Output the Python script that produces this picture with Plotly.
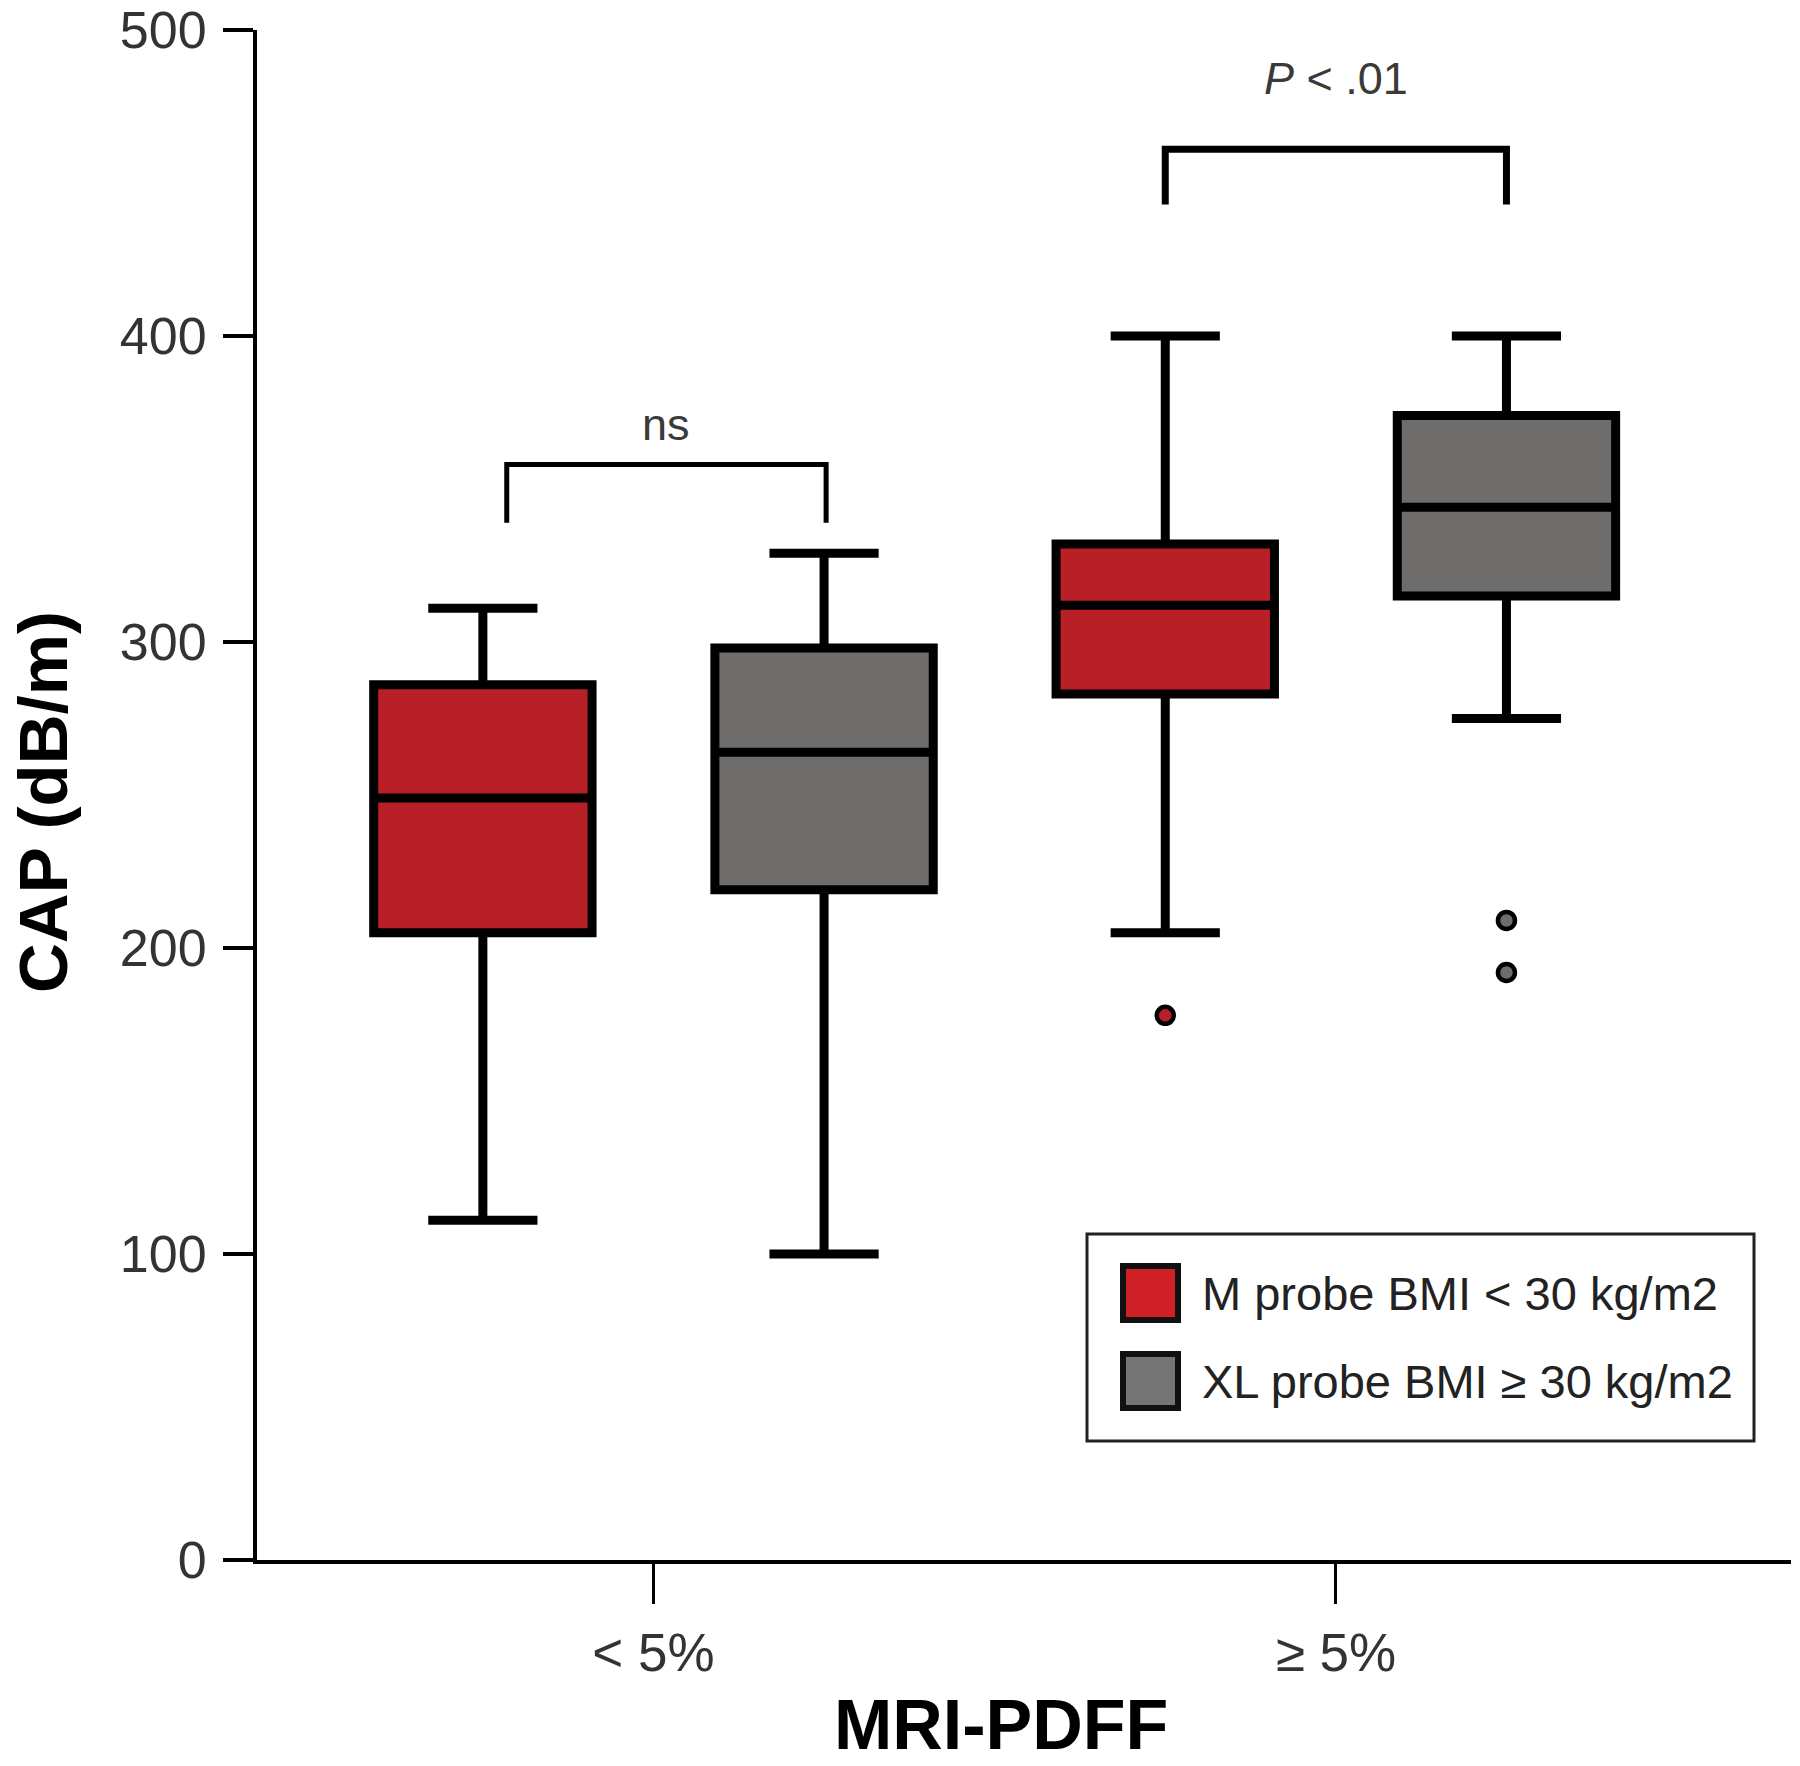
import plotly.graph_objects as go

# ---------------- data ----------------
categories = ["&lt; 5%", "≥ 5%"]

m_lower = [111, 205]
m_q1 = [205, 283]
m_median = [249, 312]
m_q3 = [286, 332]
m_upper = [311, 400]

xl_lower = [100, 275]
xl_q1 = [219, 315]
xl_median = [264, 344]
xl_q3 = [298, 374]
xl_upper = [329, 400]

m_outlier_cat = [1]
m_outlier_val = [178]
xl_outlier_cat = [1, 1]
xl_outlier_val = [209, 192]

y_ticks = [0, 100, 200, 300, 400, 500]

series_names = ["M probe BMI &lt; 30 kg/m2", "XL probe BMI ≥ 30 kg/m2"]

# ---------------- style ----------------
FONT = "Liberation Sans, Arial, Helvetica, sans-serif"
RED = "#B91F26"
GRAY = "#6E6D6C"
RED_LEG = "#CF2027"
GRAY_LEG = "#767575"
OFFSET = 0.25
BOX_W = 0.32

W, H = 1800, 1766
PLOT_L, PLOT_R, PLOT_T, PLOT_B = 257, 1791, 30, 1560   # in window pixels
ML = PLOT_L
MT = PLOT_T
MR = W - PLOT_R
MB = H - PLOT_B
pw = PLOT_R - PLOT_L
ph = PLOT_B - PLOT_T


def px_x(p):
    return (p - PLOT_L) / pw


def px_y(p):
    return (PLOT_B - p) / ph


cat_idx = list(range(len(categories)))

fig = go.Figure()

fig.add_trace(go.Box(
    x=[i - OFFSET for i in cat_idx],
    q1=m_q1, median=m_median, q3=m_q3,
    lowerfence=m_lower, upperfence=m_upper,
    width=BOX_W, whiskerwidth=0.5,
    fillcolor=RED, line=dict(color="black", width=9),
    boxpoints=False, name=series_names[0], showlegend=False,
))
fig.add_trace(go.Box(
    x=[i + OFFSET for i in cat_idx],
    q1=xl_q1, median=xl_median, q3=xl_q3,
    lowerfence=xl_lower, upperfence=xl_upper,
    width=BOX_W, whiskerwidth=0.5,
    fillcolor=GRAY, line=dict(color="black", width=9),
    boxpoints=False, name=series_names[1], showlegend=False,
))

fig.add_trace(go.Scatter(
    x=[c - OFFSET for c in m_outlier_cat], y=m_outlier_val, mode="markers",
    marker=dict(symbol="circle", size=17, color=RED, line=dict(color="black", width=4.5)),
    showlegend=False, hoverinfo="y",
))
fig.add_trace(go.Scatter(
    x=[c + OFFSET for c in xl_outlier_cat], y=xl_outlier_val, mode="markers",
    marker=dict(symbol="circle", size=17, color=GRAY, line=dict(color="black", width=4.5)),
    showlegend=False, hoverinfo="y",
))

# ---------------- significance brackets ----------------
brackets = [
    dict(x0=-0.215, x1=0.253, ylow=339, yhigh=358, width=5, label="ns", ylab=371),
    dict(x0=0.75, x1=1.25, ylow=443, yhigh=461, width=7, label="<i>P</i> &lt; .01", ylab=484),
]
for b in brackets:
    fig.add_shape(
        type="path", xref="x", yref="y",
        path=f"M {b['x0']},{b['ylow']} L {b['x0']},{b['yhigh']} L {b['x1']},{b['yhigh']} L {b['x1']},{b['ylow']}",
        line=dict(color="black", width=b["width"]),
    )
    fig.add_annotation(
        x=(b["x0"] + b["x1"]) / 2, y=b["ylab"], xref="x", yref="y",
        text=b["label"], showarrow=False,
        font=dict(family=FONT, size=45, color="#3a3a3a"),
        xanchor="center", yanchor="middle",
    )

# ---------------- manual legend (paper coords) ----------------
fig.add_shape(type="rect", xref="paper", yref="paper",
              x0=px_x(1087), x1=px_x(1754), y0=px_y(1441), y1=px_y(1234),
              line=dict(color="#222222", width=3), fillcolor="white")
legend_rows = [(RED_LEG, 1293), (GRAY_LEG, 1381)]
for (col, yc), name in zip(legend_rows, series_names):
    fig.add_shape(type="rect", xref="paper", yref="paper",
                  x0=px_x(1123), x1=px_x(1178), y0=px_y(yc + 27), y1=px_y(yc - 27),
                  line=dict(color="#111111", width=6), fillcolor=col)
    fig.add_annotation(x=px_x(1200), y=px_y(yc), xref="paper", yref="paper",
                       text=name, showarrow=False, xanchor="left", yanchor="middle",
                       font=dict(family=FONT, size=47, color="#222222"))

# ---------------- axis titles ----------------
fig.add_annotation(x=px_x(43), y=px_y(802), xref="paper", yref="paper",
                   text="<b>CAP (dB/m)</b>", textangle=-90, showarrow=False,
                   xanchor="center", yanchor="middle",
                   font=dict(family=FONT, size=69, color="black"))
fig.add_annotation(x=px_x(1001), y=px_y(1725), xref="paper", yref="paper",
                   text="<b>MRI-PDFF</b>", showarrow=False,
                   xanchor="center", yanchor="middle",
                   font=dict(family=FONT, size=70, color="black"))

fig.update_layout(
    width=W, height=H,
    margin=dict(l=ML, r=MR, t=MT, b=MB, pad=0, autoexpand=False),
    plot_bgcolor="white", paper_bgcolor="white",
    boxmode="overlay",
    showlegend=False,
    font=dict(family=FONT),
)
fig.update_xaxes(
    range=[-0.581, 1.667],
    tickmode="array", tickvals=cat_idx, ticktext=categories,
    showline=True, linecolor="black", linewidth=4,
    ticks="outside", ticklen=40, tickwidth=3, tickcolor="black",
    showgrid=False, zeroline=False,
    tickfont=dict(family=FONT, size=53, color="#333333"),
    ticklabelstandoff=3,
)
fig.update_yaxes(
    range=[0, 500],
    tickmode="array", tickvals=y_ticks,
    showline=True, linecolor="black", linewidth=4,
    ticks="outside", ticklen=30, tickwidth=4, tickcolor="black",
    showgrid=False, zeroline=False,
    tickfont=dict(family=FONT, size=52, color="#333333"),
    ticklabelstandoff=6,
    ticklabeloverflow="allow",
)

# remove the browser's default 8px page margin so the figure fills the window
fig.write_html("out.html", config={"displayModeBar": False},
               post_script="document.body.style.margin='0';")
